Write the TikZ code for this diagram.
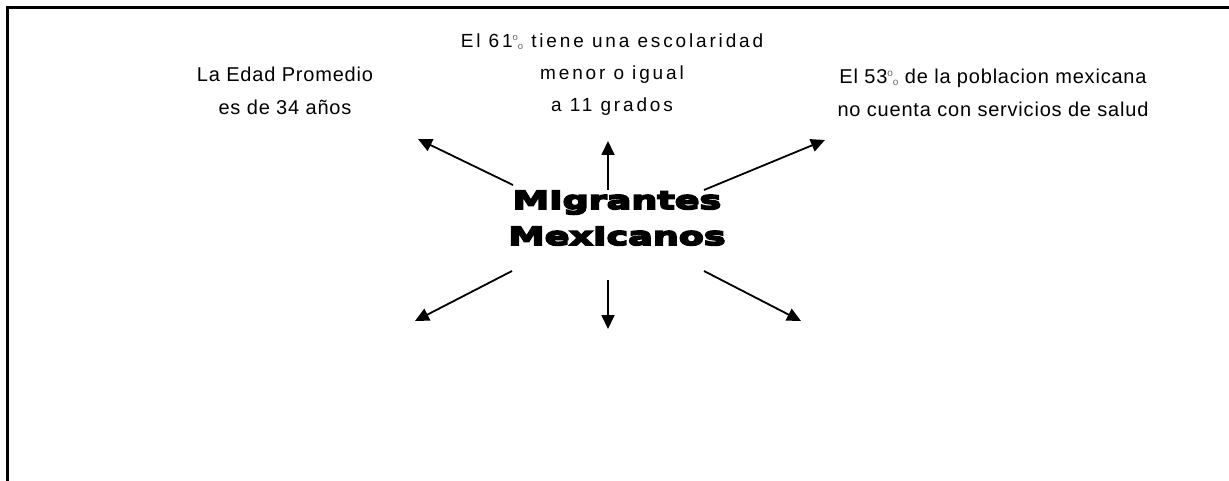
\documentclass[tikz,border=0pt]{standalone}
\usepackage{fontspec}
\setmainfont{Liberation Sans}
\usetikzlibrary{arrows.meta}
\newfontfamily\labelfont{Liberation Sans}[LetterSpace=4]
\newfontfamily\spacedfont{Liberation Sans}[LetterSpace=15]
\newfontfamily\blackfont{DejaVu Sans Bold}[FakeBold=7,FakeStretch=1.46]
\newcommand\pctsign{\raisebox{0.75ex}{\scalebox{0.5}{\textcolor{black!60}{o}}}\raisebox{-0.1ex}{\scalebox{0.5}{\textcolor{black!60}{o}}}}
\begin{document}
\begin{tikzpicture}[x=1pt,y=-1pt,
  arr/.style={line width=1.8pt,-{Triangle[length=14pt,width=13pt]}},
  frame/.style={line width=3pt},
  label/.style={inner sep=0pt,align=center,anchor=base,font=\labelfont\fontsize{20}{33}\selectfont},
  title/.style={inner sep=0pt,align=center,anchor=base,font=\blackfont\fontsize{25}{36}\selectfont}]
\useasboundingbox (0,0) rectangle (1229,481);
\draw[frame] (7.5,481) -- (7.5,7.5) -- (1229,7.5);
\node[title] (c) at (617,245) {MIgrantes\\MexIcanos};
\node[label] (edad) at (285,115) {La Edad Promedio\\es de 34 años};
\node[label,font=\spacedfont\fontsize{19}{32}\selectfont] (esc) at (612,112) {El 61\pctsign{} tiene una escolaridad\\menor o igual\\a 11 grados};
\node[label] (salud) at (993,117) {El 53\pctsign{} de la poblacion mexicana\\no cuenta con servicios de salud};
\coordinate (s1) at (513,185); \coordinate (e1) at (418,139);
\coordinate (s2) at (608,190); \coordinate (e2) at (608,141);
\coordinate (s3) at (704,190); \coordinate (e3) at (825,140);
\coordinate (s4) at (512,271); \coordinate (e4) at (415,321);
\coordinate (s5) at (608,280); \coordinate (e5) at (608,329);
\coordinate (s6) at (704,271); \coordinate (e6) at (801,321);
\foreach \i in {1,...,6} \draw[arr] (s\i) -- (e\i);
\end{tikzpicture}
\end{document}
